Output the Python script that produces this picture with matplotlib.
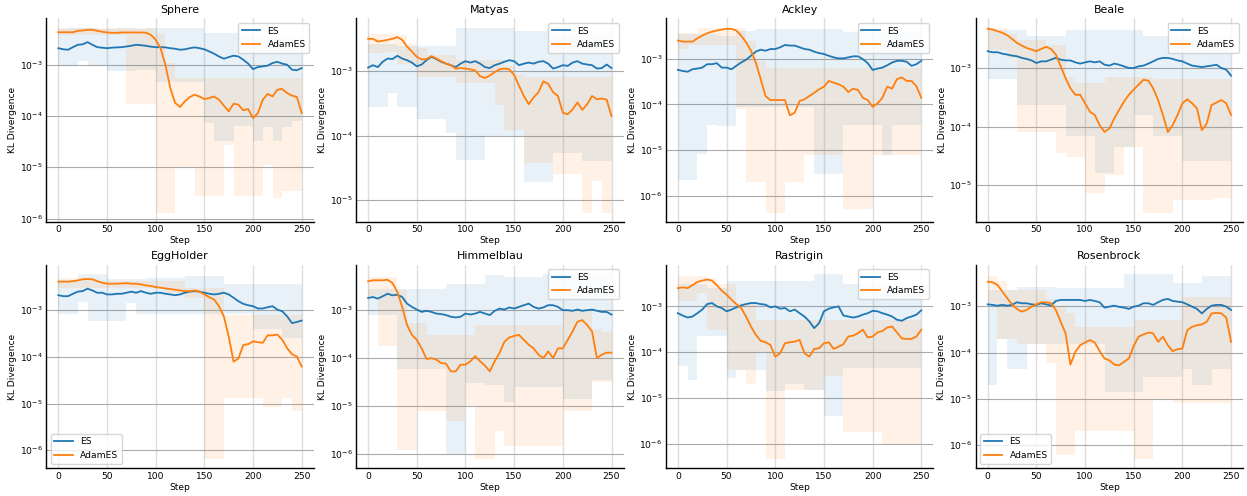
import matplotlib
matplotlib.use('Agg')
import matplotlib.pyplot as plt


steps = list(range(0, 251, 5))
band_steps = list(range(0, 251, 10))

# ---- Sphere ----
sphere_es = [2.1e-3, 2.0e-3, 1.96e-3, 2.2e-3, 2.45e-3, 2.5e-3, 2.76e-3, 2.45e-3, 2.2e-3, 2.15e-3,
             2.1e-3, 2.15e-3, 2.18e-3, 2.2e-3, 2.27e-3, 2.35e-3, 2.45e-3, 2.4e-3, 2.34e-3, 2.25e-3,
             2.2e-3, 2.2e-3, 2.18e-3, 2.1e-3, 2.05e-3, 1.96e-3, 2.0e-3, 2.1e-3, 2.18e-3, 2.1e-3,
             2.0e-3, 1.82e-3, 1.64e-3, 1.45e-3, 1.31e-3, 1.41e-3, 1.5e-3, 1.45e-3, 1.25e-3, 1.05e-3,
             8.2e-4, 9.0e-4, 9.3e-4, 9.6e-4, 1.08e-3, 1.14e-3, 1.05e-3, 1.0e-3, 8.0e-4, 7.8e-4, 8.6e-4]
sphere_adam = [4.3e-3, 4.3e-3, 4.3e-3, 4.3e-3, 4.6e-3, 4.65e-3, 4.8e-3, 4.8e-3, 4.6e-3, 4.4e-3,
               4.26e-3, 4.2e-3, 4.2e-3, 4.26e-3, 4.26e-3, 4.26e-3, 4.26e-3, 4.26e-3, 4.2e-3, 3.84e-3,
               3.07e-3, 2.1e-3, 1.0e-3, 3.5e-4, 1.8e-4, 1.5e-4, 1.93e-4, 2.34e-4, 2.6e-4, 2.4e-4,
               2.14e-4, 2.24e-4, 2.4e-4, 2.08e-4, 1.6e-4, 1.23e-4, 1.74e-4, 1.66e-4, 1.29e-4, 1.37e-4,
               9.1e-5, 1.14e-4, 2.08e-4, 2.7e-4, 2.4e-4, 3.26e-4, 3.35e-4, 2.8e-4, 2.5e-4, 2.35e-4, 1.14e-4]
sphere_es_hi = [5.0e-3, 5.3e-3, 5.3e-3, 5.2e-3, 5.0e-3, 5.0e-3, 5.2e-3, 5.2e-3, 5.0e-3, 5.2e-3,
                5.2e-3, 5.2e-3, 5.2e-3, 5.2e-3, 5.2e-3, 4.2e-3, 4.2e-3, 4.2e-3, 4.2e-3, 4.0e-3,
                3.3e-3, 3.3e-3, 3.3e-3, 3.3e-3, 3.3e-3, 3.3e-3]
sphere_es_lo = [9.3e-4, 9.3e-4, 1.2e-3, 9.3e-4, 9.3e-4, 7.4e-4, 7.4e-4, 7.4e-4, 8.0e-4, 8.0e-4,
                4.7e-4, 4.7e-4, 4.7e-4, 4.7e-4, 4.7e-4, 7.2e-5, 3.2e-5, 3.2e-5, 6.5e-5, 6.5e-5,
                3.2e-5, 6.0e-5, 3.2e-5, 6.0e-5, 8.0e-5, 8.0e-5]
sphere_adam_hi = [5.2e-3, 5.2e-3, 5.2e-3, 5.2e-3, 5.2e-3, 5.2e-3, 5.2e-3, 5.2e-3, 5.2e-3, 5.2e-3,
                  4.0e-3, 1.1e-3, 5.5e-4, 5.5e-4, 5.5e-4, 5.5e-4, 5.5e-4, 5.5e-4, 5.5e-4, 5.5e-4,
                  5.5e-4, 5.5e-4, 5.5e-4, 5.5e-4, 5.5e-4, 5.5e-4]
sphere_adam_lo = [3.8e-3, 3.8e-3, 3.8e-3, 3.8e-3, 3.8e-3, 3.8e-3, 3.8e-3, 1.7e-4, 1.7e-4, 1.7e-4,
                  1.3e-6, 1.3e-6, 1.0e-5, 1.0e-5, 2.7e-6, 2.7e-6, 2.7e-6, 2.7e-5, 2.7e-6, 2.7e-6,
                  2.7e-6, 1.1e-5, 2.5e-6, 3.5e-6, 3.5e-6, 3.5e-6]

# ---- Matyas ----
matyas_es = [1.13e-3, 1.23e-3, 1.15e-3, 1.39e-3, 1.56e-3, 1.53e-3, 1.72e-3, 1.56e-3, 1.47e-3, 1.35e-3,
             1.18e-3, 1.26e-3, 1.47e-3, 1.66e-3, 1.53e-3, 1.39e-3, 1.3e-3, 1.23e-3, 1.15e-3, 1.3e-3,
             1.42e-3, 1.35e-3, 1.42e-3, 1.3e-3, 1.15e-3, 1.11e-3, 1.23e-3, 1.3e-3, 1.39e-3, 1.47e-3,
             1.42e-3, 1.23e-3, 1.3e-3, 1.35e-3, 1.3e-3, 1.39e-3, 1.42e-3, 1.3e-3, 1.09e-3, 1.15e-3,
             1.23e-3, 1.2e-3, 1.35e-3, 1.42e-3, 1.3e-3, 1.26e-3, 1.23e-3, 1.09e-3, 1.11e-3, 1.26e-3, 1.11e-3]
matyas_adam = [3.15e-3, 3.15e-3, 2.86e-3, 2.94e-3, 3.04e-3, 3.15e-3, 3.35e-3, 3.04e-3, 2.39e-3, 2.0e-3,
               1.66e-3, 1.51e-3, 1.53e-3, 1.7e-3, 1.56e-3, 1.42e-3, 1.3e-3, 1.23e-3, 1.09e-3, 1.11e-3,
               1.09e-3, 1.06e-3, 1.02e-3, 8.3e-4, 7.8e-4, 8.5e-4, 9.6e-4, 1.06e-3, 1.09e-3, 1.06e-3,
               8.7e-4, 5.9e-4, 4.1e-4, 3.06e-4, 3.9e-4, 4.7e-4, 6.9e-4, 6.3e-4, 4.7e-4, 4.1e-4,
               2.26e-4, 2.13e-4, 2.55e-4, 3.25e-4, 2.5e-4, 3.06e-4, 4.1e-4, 3.65e-4, 3.75e-4, 3.6e-4, 2.0e-4]
matyas_es_hi = [2.6e-3, 2.6e-3, 2.6e-3, 2.4e-3, 2.4e-3, 2.4e-3, 2.4e-3, 2.4e-3, 2.4e-3, 4.7e-3,
                4.7e-3, 4.7e-3, 4.7e-3, 4.7e-3, 4.7e-3, 4.1e-3, 4.1e-3, 4.1e-3, 4.1e-3, 3.7e-3,
                3.7e-3, 3.7e-3, 3.7e-3, 3.7e-3, 3.7e-3, 3.7e-3]
matyas_es_lo = [2.8e-4, 2.8e-4, 4.5e-4, 2.8e-4, 2.8e-4, 1.8e-4, 1.8e-4, 1.8e-4, 1.1e-4, 4.2e-5,
                4.2e-5, 4.2e-5, 1.0e-4, 1.0e-4, 1.0e-4, 1.0e-4, 1.9e-5, 1.9e-5, 1.9e-5, 5.3e-5,
                5.3e-5, 5.3e-5, 4.0e-5, 4.0e-5, 4.0e-5, 4.0e-5]
matyas_adam_hi = [3.7e-3, 3.7e-3, 3.7e-3, 3.6e-3, 2.6e-3, 2.3e-3, 1.8e-3, 1.8e-3, 1.8e-3, 1.5e-3,
                  1.5e-3, 1.5e-3, 1.5e-3, 1.5e-3, 1.2e-3, 9.0e-4, 8.0e-4, 8.0e-4, 8.0e-4, 8.0e-4,
                  8.0e-4, 8.0e-4, 8.0e-4, 8.0e-4, 8.0e-4, 8.0e-4]
matyas_adam_lo = [1.9e-3, 1.9e-3, 2.0e-3, 1.3e-3, 1.3e-3, 8.0e-4, 8.0e-4, 8.0e-4, 8.0e-4, 6.5e-4,
                  6.5e-4, 6.5e-4, 6.5e-4, 3.0e-4, 1.2e-4, 1.2e-4, 3.7e-5, 3.7e-5, 3.7e-5, 2.5e-5,
                  2.5e-5, 2.5e-5, 6.4e-6, 2.0e-5, 6.4e-6, 6.4e-6]

# ---- Ackley ----
ackley_es = [5.7e-4, 5.4e-4, 5.2e-4, 5.9e-4, 6.1e-4, 6.4e-4, 7.6e-4, 7.6e-4, 8.0e-4, 6.4e-4,
             6.4e-4, 5.9e-4, 7.0e-4, 8.3e-4, 9.5e-4, 1.16e-3, 1.43e-3, 1.58e-3, 1.5e-3, 1.63e-3,
             1.63e-3, 1.78e-3, 2.0e-3, 1.94e-3, 1.94e-3, 1.78e-3, 1.63e-3, 1.58e-3, 1.43e-3, 1.33e-3,
             1.27e-3, 1.16e-3, 1.07e-3, 1.02e-3, 1.02e-3, 1.07e-3, 1.13e-3, 1.13e-3, 9.8e-4, 8.0e-4,
             5.7e-4, 6.1e-4, 6.4e-4, 7.2e-4, 8.3e-4, 9.0e-4, 9.0e-4, 8.6e-4, 7.0e-4, 7.6e-4, 9.0e-4]
ackley_adam = [2.5e-3, 2.37e-3, 2.37e-3, 2.37e-3, 2.8e-3, 3.2e-3, 3.6e-3, 3.9e-3, 4.15e-3, 4.36e-3,
               4.5e-3, 4.5e-3, 4.15e-3, 3.2e-3, 2.3e-3, 1.5e-3, 8.3e-4, 3.6e-4, 1.53e-4, 1.25e-4,
               1.25e-4, 1.25e-4, 1.25e-4, 5.8e-5, 6.6e-5, 1.19e-4, 1.3e-4, 1.53e-4, 1.8e-4, 2.14e-4,
               2.45e-4, 3.27e-4, 3.0e-4, 2.76e-4, 2.45e-4, 1.87e-4, 2.22e-4, 2.07e-4, 1.4e-4, 1.25e-4,
               8.9e-5, 1.05e-4, 1.4e-4, 2.45e-4, 2.22e-4, 3.6e-4, 3.9e-4, 3.27e-4, 3.27e-4, 2.5e-4, 1.4e-4]
ackley_es_hi = [3.5e-3, 3.5e-3, 3.5e-3, 3.5e-3, 3.2e-3, 3.2e-3, 4.0e-3, 4.0e-3, 4.5e-3, 4.5e-3,
                4.5e-3, 4.5e-3, 4.5e-3, 4.5e-3, 4.5e-3, 4.5e-3, 4.5e-3, 3.8e-3, 3.8e-3, 3.8e-3,
                3.8e-3, 3.8e-3, 3.8e-3, 3.8e-3, 3.8e-3, 3.8e-3]
ackley_es_lo = [2.2e-6, 2.2e-6, 8.3e-6, 3.5e-5, 3.3e-5, 3.3e-5, 9.0e-5, 9.0e-5, 9.0e-5, 9.0e-5,
                9.0e-5, 9.0e-5, 9.0e-5, 9.0e-5, 3.0e-6, 3.0e-6, 3.0e-6, 3.5e-5, 3.5e-5, 3.5e-5,
                3.5e-5, 8.0e-6, 3.5e-5, 3.5e-5, 3.5e-5, 3.5e-5]
ackley_adam_hi = [3.6e-3, 3.6e-3, 4.8e-3, 4.8e-3, 4.8e-3, 4.8e-3, 4.8e-3, 2.5e-3, 9.0e-4, 6.4e-4,
                  6.4e-4, 6.4e-4, 6.4e-4, 6.4e-4, 6.4e-4, 6.4e-4, 6.4e-4, 6.4e-4, 6.4e-4, 6.4e-4,
                  6.4e-4, 6.4e-4, 6.4e-4, 6.4e-4, 6.4e-4, 6.4e-4]
ackley_adam_lo = [1.6e-3, 2.0e-3, 2.0e-3, 2.0e-3, 2.0e-3, 2.0e-3, 8.0e-5, 2.0e-6, 2.0e-6, 4.3e-7,
                  4.3e-7, 2.0e-6, 2.0e-6, 8.0e-6, 8.0e-6, 8.0e-6, 8.0e-6, 5.1e-7, 5.1e-7, 5.1e-7,
                  8.0e-6, 8.0e-6, 8.0e-6, 8.0e-6, 8.0e-6, 8.0e-6]

# ---- Beale ----
beale_es = [1.94e-3, 1.86e-3, 1.86e-3, 1.76e-3, 1.7e-3, 1.63e-3, 1.59e-3, 1.49e-3, 1.43e-3, 1.35e-3,
            1.22e-3, 1.3e-3, 1.3e-3, 1.39e-3, 1.49e-3, 1.39e-3, 1.35e-3, 1.35e-3, 1.25e-3, 1.19e-3,
            1.25e-3, 1.3e-3, 1.25e-3, 1.3e-3, 1.14e-3, 1.1e-3, 1.19e-3, 1.14e-3, 1.07e-3, 1.0e-3,
            1.0e-3, 1.07e-3, 1.1e-3, 1.19e-3, 1.3e-3, 1.43e-3, 1.49e-3, 1.49e-3, 1.43e-3, 1.35e-3,
            1.3e-3, 1.19e-3, 1.1e-3, 1.07e-3, 1.04e-3, 1.07e-3, 1.1e-3, 1.14e-3, 1.0e-3, 9.4e-4, 7.4e-4]
beale_adam = [4.7e-3, 4.55e-3, 4.27e-3, 3.99e-3, 3.64e-3, 3.15e-3, 2.69e-3, 2.42e-3, 2.2e-3, 2.07e-3,
              1.94e-3, 2.12e-3, 2.3e-3, 2.12e-3, 1.7e-3, 1.07e-3, 6.7e-4, 4.5e-4, 3.5e-4, 3.5e-4,
              2.5e-4, 1.8e-4, 1.58e-4, 1.06e-4, 8.1e-5, 9.3e-5, 1.38e-4, 1.93e-4, 2.67e-4, 3.5e-4,
              4.3e-4, 5.2e-4, 6.3e-4, 6.1e-4, 4.5e-4, 2.85e-4, 1.58e-4, 8.1e-5, 1.06e-4, 1.58e-4,
              2.5e-4, 2.93e-4, 2.5e-4, 2.05e-4, 8.7e-5, 1.13e-4, 2.35e-4, 2.57e-4, 2.85e-4, 2.5e-4, 1.58e-4]
beale_es_hi = [4.5e-3, 4.5e-3, 4.5e-3, 4.5e-3, 3.5e-3, 3.5e-3, 3.5e-3, 3.5e-3, 4.5e-3, 4.5e-3,
               4.5e-3, 4.5e-3, 4.5e-3, 4.5e-3, 4.5e-3, 4.5e-3, 3.5e-3, 3.5e-3, 3.5e-3, 3.5e-3,
               3.5e-3, 3.5e-3, 3.5e-3, 3.5e-3, 3.5e-3, 3.5e-3]
beale_es_lo = [6.5e-4, 6.5e-4, 6.5e-4, 2.3e-4, 2.3e-4, 2.3e-4, 2.3e-4, 2.3e-4, 7.0e-5, 7.0e-5,
               7.0e-5, 1.6e-5, 1.6e-5, 4.5e-5, 4.5e-5, 1.6e-4, 1.6e-4, 7.0e-5, 7.0e-5, 7.0e-5,
               2.6e-5, 2.6e-5, 2.6e-5, 2.6e-5, 2.6e-5, 2.6e-5]
beale_adam_hi = [4.9e-3, 4.9e-3, 3.8e-3, 3.0e-3, 3.0e-3, 3.0e-3, 2.5e-3, 2.5e-3, 7.0e-4, 5.5e-4,
                 5.5e-4, 5.5e-4, 7.0e-4, 7.0e-4, 7.0e-4, 7.0e-4, 7.0e-4, 6.5e-4, 6.5e-4, 6.5e-4,
                 6.5e-4, 6.5e-4, 6.5e-4, 6.5e-4, 6.5e-4, 6.5e-4]
beale_adam_lo = [2.0e-3, 2.0e-3, 1.5e-3, 8.0e-5, 8.0e-5, 8.0e-5, 8.0e-5, 3.5e-5, 3.0e-5, 3.0e-5,
                 7.4e-6, 7.4e-6, 1.5e-5, 1.5e-5, 4.5e-5, 4.5e-5, 3.4e-6, 3.4e-6, 3.4e-6, 5.5e-6,
                 5.5e-6, 5.5e-6, 5.5e-6, 6.0e-6, 6.0e-6, 6.0e-6]

# ---- EggHolder ----
egg_es = [2.1e-3, 2.0e-3, 2.0e-3, 2.25e-3, 2.5e-3, 2.57e-3, 2.9e-3, 2.65e-3, 2.37e-3, 2.37e-3,
          2.18e-3, 2.18e-3, 2.25e-3, 2.25e-3, 2.37e-3, 2.5e-3, 2.37e-3, 2.57e-3, 2.37e-3, 2.25e-3,
          2.37e-3, 2.37e-3, 2.25e-3, 2.18e-3, 2.1e-3, 2.18e-3, 2.37e-3, 2.5e-3, 2.57e-3, 2.5e-3,
          2.37e-3, 2.25e-3, 2.18e-3, 2.25e-3, 2.37e-3, 2.18e-3, 1.85e-3, 1.56e-3, 1.37e-3, 1.28e-3,
          1.22e-3, 1.09e-3, 1.09e-3, 1.16e-3, 1.22e-3, 1.03e-3, 9.5e-4, 7.4e-4, 5.3e-4, 5.6e-4, 6.0e-4]
egg_adam = [4.1e-3, 4.1e-3, 4.1e-3, 4.2e-3, 4.35e-3, 4.6e-3, 4.66e-3, 4.6e-3, 4.2e-3, 3.9e-3,
            3.7e-3, 3.7e-3, 3.7e-3, 3.75e-3, 3.8e-3, 3.7e-3, 3.7e-3, 3.58e-3, 3.4e-3, 3.3e-3,
            3.13e-3, 3.03e-3, 2.93e-3, 2.84e-3, 2.75e-3, 2.65e-3, 2.57e-3, 2.57e-3, 2.65e-3, 2.5e-3,
            2.18e-3, 1.9e-3, 1.7e-3, 1.22e-3, 7.4e-4, 2.75e-4, 7.9e-5, 9.3e-5, 1.8e-4, 1.87e-4,
            2.15e-4, 2.07e-4, 2.0e-4, 2.9e-4, 2.9e-4, 3.0e-4, 2.33e-4, 1.54e-4, 1.14e-4, 1.02e-4, 6.2e-5]
egg_es_hi = [4.4e-3, 4.4e-3, 6.0e-3, 6.0e-3, 6.0e-3, 4.6e-3, 4.6e-3, 4.6e-3, 4.6e-3, 5.0e-3,
             5.0e-3, 5.0e-3, 5.0e-3, 5.5e-3, 5.5e-3, 5.5e-3, 5.5e-3, 3.7e-3, 3.7e-3, 3.7e-3,
             3.7e-3, 3.7e-3, 3.7e-3, 3.7e-3, 3.7e-3, 3.7e-3]
egg_es_lo = [8.5e-4, 8.5e-4, 1.5e-3, 5.8e-4, 5.8e-4, 5.8e-4, 5.8e-4, 1.4e-3, 8.5e-4, 8.5e-4,
             8.5e-4, 8.5e-4, 8.5e-4, 8.5e-4, 8.5e-4, 8.5e-4, 8.5e-4, 8.5e-4, 8.5e-4, 8.5e-4,
             4.0e-4, 4.0e-4, 4.0e-4, 2.5e-4, 2.5e-4, 2.5e-4]
egg_adam_hi = [4.9e-3, 4.9e-3, 4.9e-3, 4.9e-3, 4.3e-3, 4.3e-3, 4.3e-3, 4.3e-3, 4.3e-3, 4.3e-3,
               4.3e-3, 4.3e-3, 4.3e-3, 3.0e-3, 3.0e-3, 3.0e-3, 3.0e-3, 7.8e-4, 7.8e-4, 7.8e-4,
               7.8e-4, 7.8e-4, 7.8e-4, 7.8e-4, 7.8e-4, 7.8e-4]
egg_adam_lo = [3.0e-3, 3.0e-3, 3.0e-3, 3.0e-3, 3.0e-3, 3.0e-3, 3.0e-3, 3.0e-3, 3.0e-3, 3.0e-3,
               3.0e-3, 2.3e-3, 2.3e-3, 1.8e-3, 1.8e-3, 6.5e-7, 6.5e-7, 1.3e-5, 1.3e-5, 1.3e-5,
               1.3e-5, 8.5e-6, 8.5e-6, 1.3e-5, 7.0e-6, 7.0e-6]

# ---- Himmelblau ----
himmel_es = [1.8e-3, 1.88e-3, 1.74e-3, 1.95e-3, 2.2e-3, 2.04e-3, 2.1e-3, 1.88e-3, 1.37e-3, 1.17e-3,
             1.03e-3, 9.2e-4, 9.7e-4, 9.2e-4, 8.5e-4, 8.3e-4, 7.9e-4, 7.3e-4, 7.05e-4, 7.3e-4,
             8.5e-4, 8.1e-4, 8.5e-4, 9.2e-4, 8.5e-4, 7.9e-4, 9.7e-4, 1.08e-3, 1.03e-3, 1.14e-3,
             1.08e-3, 1.17e-3, 1.27e-3, 1.37e-3, 1.17e-3, 1.08e-3, 1.14e-3, 1.27e-3, 1.27e-3, 1.17e-3,
             1.0e-3, 1.0e-3, 9.7e-4, 1.03e-3, 9.7e-4, 1.0e-3, 1.03e-3, 9.7e-4, 9.2e-4, 9.2e-4, 8.1e-4]
himmel_adam = [4.0e-3, 4.2e-3, 4.2e-3, 4.2e-3, 4.3e-3, 3.7e-3, 2.4e-3, 1.17e-3, 4.9e-4, 3.05e-4,
               2.4e-4, 1.6e-4, 9.6e-5, 1.0e-4, 9.3e-5, 7.9e-5, 7.7e-5, 5.3e-5, 5.3e-5, 7.3e-5,
               7.3e-5, 8.6e-5, 1.1e-4, 8.6e-5, 7.0e-5, 5.3e-5, 8.6e-5, 1.28e-4, 2.2e-4, 2.7e-4,
               2.9e-4, 3.05e-4, 2.4e-4, 1.9e-4, 1.6e-4, 1.18e-4, 1.0e-4, 1.38e-4, 1.0e-4, 1.6e-4,
               1.6e-4, 2.4e-4, 3.6e-4, 5.75e-4, 6.2e-4, 4.9e-4, 3.6e-4, 1.0e-4, 1.18e-4, 1.3e-4, 1.3e-4]
himmel_es_hi = [2.7e-3, 2.7e-3, 2.7e-3, 2.7e-3, 2.7e-3, 2.7e-3, 2.7e-3, 2.7e-3, 3.5e-3, 3.5e-3,
                3.5e-3, 3.5e-3, 5.3e-3, 5.3e-3, 5.0e-3, 5.0e-3, 5.0e-3, 5.0e-3, 5.7e-3, 5.7e-3,
                5.7e-3, 5.7e-3, 5.7e-3, 5.7e-3, 5.7e-3, 5.7e-3]
himmel_es_lo = [7.9e-4, 7.9e-4, 7.9e-4, 5.8e-5, 5.8e-5, 5.8e-5, 5.8e-5, 5.8e-5, 1.0e-6, 1.0e-6,
                3.0e-5, 3.0e-5, 2.7e-5, 2.7e-5, 1.2e-5, 2.5e-5, 2.5e-5, 2.5e-5, 2.5e-5, 2.5e-5,
                1.4e-5, 1.4e-5, 1.4e-5, 3.5e-5, 3.5e-5, 3.5e-5]
himmel_adam_hi = [4.8e-3, 4.8e-3, 4.8e-3, 2.6e-3, 5.5e-4, 5.5e-4, 3.0e-4, 3.0e-4, 3.0e-4, 3.0e-4,
                  3.0e-4, 5.0e-4, 5.0e-4, 5.0e-4, 5.0e-4, 5.0e-4, 5.0e-4, 5.0e-4, 5.0e-4, 5.0e-4,
                  1.0e-3, 1.0e-3, 1.0e-3, 4.0e-4, 3.5e-4, 3.5e-4]
himmel_adam_lo = [2.0e-3, 1.75e-4, 1.75e-4, 1.2e-6, 1.2e-6, 7.9e-6, 7.9e-6, 7.9e-6, 5.0e-6, 5.0e-6,
                  1.0e-5, 7.9e-7, 7.9e-7, 3.0e-6, 1.5e-6, 1.5e-6, 1.5e-6, 1.5e-6, 1.5e-6, 1.5e-6,
                  8.0e-6, 8.0e-6, 8.0e-6, 3.2e-5, 3.2e-5, 3.2e-5]

# ---- Rastrigin ----
rast_es = [7.1e-4, 6.3e-4, 5.7e-4, 6.0e-4, 7.1e-4, 8.5e-4, 1.12e-3, 1.18e-3, 1.0e-3, 9.2e-4,
           7.8e-4, 8.5e-4, 9.5e-4, 1.05e-3, 1.12e-3, 1.18e-3, 1.18e-3, 1.12e-3, 1.09e-3, 9.5e-4,
           1.0e-3, 8.9e-4, 9.2e-4, 7.8e-4, 8.5e-4, 7.1e-4, 6.0e-4, 4.7e-4, 3.35e-4, 4.3e-4,
           7.8e-4, 8.9e-4, 9.5e-4, 1.0e-3, 6.3e-4, 6.0e-4, 5.7e-4, 6.0e-4, 6.6e-4, 7.1e-4,
           8.0e-4, 7.8e-4, 7.1e-4, 6.6e-4, 6.0e-4, 5.1e-4, 4.85e-4, 5.55e-4, 6.0e-4, 6.6e-4, 8.2e-4]
rast_adam = [2.5e-3, 2.6e-3, 2.5e-3, 2.9e-3, 3.4e-3, 3.65e-3, 3.85e-3, 3.65e-3, 2.9e-3, 2.2e-3,
             1.8e-3, 1.4e-3, 1.12e-3, 9.2e-4, 6.0e-4, 3.65e-4, 2.4e-4, 1.77e-4, 1.65e-4, 1.44e-4,
             8.0e-5, 9.5e-5, 1.57e-4, 1.65e-4, 1.7e-4, 1.86e-4, 9.5e-5, 8.0e-5, 1.18e-4, 1.22e-4,
             1.57e-4, 1.65e-4, 1.18e-4, 1.32e-4, 1.5e-4, 2.2e-4, 2.3e-4, 2.6e-4, 3.1e-4, 2.1e-4,
             2.2e-4, 2.7e-4, 2.9e-4, 3.45e-4, 3.65e-4, 2.7e-4, 2.0e-4, 1.95e-4, 1.95e-4, 2.2e-4, 3.1e-4]
rast_es_hi = [3.0e-3, 3.0e-3, 3.0e-3, 2.5e-3, 2.5e-3, 3.5e-3, 3.5e-3, 3.5e-3, 3.5e-3, 3.5e-3,
              3.5e-3, 3.5e-3, 3.5e-3, 3.5e-3, 5.1e-3, 5.1e-3, 5.1e-3, 3.0e-3, 3.0e-3, 3.0e-3,
              3.0e-3, 3.0e-3, 3.0e-3, 3.0e-3, 3.0e-3, 3.0e-3]
rast_es_lo = [5.0e-5, 2.5e-5, 2.3e-4, 2.3e-4, 2.3e-4, 2.7e-5, 4.0e-5, 4.0e-5, 4.0e-5, 1.44e-5,
              1.44e-5, 2.0e-5, 2.0e-5, 1.5e-5, 1.5e-5, 4.0e-6, 4.0e-6, 4.6e-5, 4.6e-5, 4.6e-5,
              4.6e-5, 4.6e-5, 4.6e-5, 4.6e-5, 4.6e-5, 4.6e-5]
rast_adam_hi = [4.5e-3, 4.5e-3, 4.5e-3, 4.2e-3, 3.0e-3, 3.0e-3, 1.2e-3, 1.2e-3, 5.0e-4, 5.0e-4,
                5.0e-4, 5.0e-4, 5.0e-4, 5.0e-4, 5.0e-4, 5.0e-4, 5.0e-4, 5.0e-4, 5.0e-4, 5.0e-4,
                5.0e-4, 5.0e-4, 5.0e-4, 5.0e-4, 5.0e-4, 5.0e-4]
rast_adam_lo = [1.3e-3, 1.3e-3, 2.0e-3, 3.0e-4, 3.0e-4, 4.0e-5, 4.0e-5, 2.0e-5, 1.0e-4, 4.7e-7,
                4.7e-7, 1.5e-5, 1.5e-5, 1.5e-5, 1.5e-5, 3.0e-5, 3.0e-5, 1.8e-6, 1.8e-6, 1.8e-6,
                1.8e-6, 1.0e-6, 1.0e-6, 1.0e-6, 1.0e-6, 1.0e-6]

# ---- Rosenbrock ----
rosen_es = [1.1e-3, 1.07e-3, 1.03e-3, 1.07e-3, 1.03e-3, 1.07e-3, 1.22e-3, 1.16e-3, 1.16e-3, 1.1e-3,
            1.07e-3, 1.16e-3, 1.1e-3, 1.03e-3, 1.3e-3, 1.37e-3, 1.37e-3, 1.37e-3, 1.37e-3, 1.37e-3,
            1.3e-3, 1.37e-3, 1.3e-3, 1.22e-3, 9.35e-4, 9.8e-4, 1.03e-3, 9.7e-4, 9.35e-4, 8.75e-4,
            9.8e-4, 1.03e-3, 1.16e-3, 1.16e-3, 1.07e-3, 1.22e-3, 1.37e-3, 1.44e-3, 1.3e-3, 1.26e-3,
            1.22e-3, 1.1e-3, 9.8e-4, 8.75e-4, 7.0e-4, 8.75e-4, 1.03e-3, 1.07e-3, 1.07e-3, 9.8e-4, 8.3e-4]
rosen_adam = [3.4e-3, 3.3e-3, 2.9e-3, 2.08e-3, 1.5e-3, 1.1e-3, 8.75e-4, 7.65e-4, 8.3e-4, 9.8e-4,
              1.1e-3, 1.22e-3, 1.22e-3, 1.16e-3, 8.3e-4, 4.6e-4, 2.6e-4, 5.5e-5, 1.03e-4, 1.44e-4,
              1.65e-4, 1.86e-4, 1.65e-4, 1.07e-4, 7.4e-5, 6.8e-5, 5.5e-5, 5.3e-5, 6.3e-5, 7.4e-5,
              1.4e-4, 2.2e-4, 2.46e-4, 2.7e-4, 2.6e-4, 1.7e-4, 2.2e-4, 1.44e-4, 1.07e-4, 1.18e-4,
              1.22e-4, 3.05e-4, 3.6e-4, 3.9e-4, 4.05e-4, 4.6e-4, 7.0e-4, 7.2e-4, 7.0e-4, 5.7e-4, 1.7e-4]
rosen_es_hi = [2.2e-3, 2.2e-3, 2.2e-3, 2.6e-3, 2.6e-3, 2.6e-3, 2.6e-3, 2.5e-3, 2.5e-3, 2.5e-3,
               2.5e-3, 2.5e-3, 2.5e-3, 2.5e-3, 5.0e-3, 5.0e-3, 5.0e-3, 5.0e-3, 5.0e-3, 3.2e-3,
               3.2e-3, 3.2e-3, 4.5e-3, 4.5e-3, 4.5e-3, 4.5e-3]
rosen_es_lo = [2.0e-5, 2.0e-4, 4.5e-5, 4.5e-5, 1.5e-4, 1.5e-4, 1.5e-4, 1.5e-4, 1.5e-4, 1.5e-4,
               1.5e-4, 1.5e-4, 1.4e-5, 1.4e-5, 1.4e-5, 1.4e-5, 3.0e-5, 3.0e-5, 3.0e-5, 3.0e-5,
               4.5e-5, 2.0e-5, 2.0e-5, 4.5e-5, 4.5e-5, 4.5e-5]
rosen_adam_hi = [4.5e-3, 3.5e-3, 2.2e-3, 2.2e-3, 2.2e-3, 2.2e-3, 1.4e-3, 1.0e-3, 7.0e-4, 3.5e-4,
                 3.5e-4, 3.5e-4, 3.5e-4, 3.5e-4, 3.5e-4, 5.0e-4, 5.0e-4, 5.0e-4, 5.0e-4, 5.0e-4,
                 1.6e-3, 1.6e-3, 1.6e-3, 1.6e-3, 1.6e-3, 1.6e-3]
rosen_adam_lo = [1.2e-3, 2.0e-4, 2.0e-4, 1.5e-4, 1.5e-4, 1.5e-4, 6.0e-5, 6.0e-7, 6.0e-7, 2.0e-6,
                 2.0e-6, 2.0e-6, 2.0e-6, 2.0e-6, 2.0e-6, 5.0e-7, 5.0e-7, 1.0e-5, 1.0e-5, 8.0e-6,
                 8.0e-6, 8.0e-6, 8.0e-6, 8.0e-6, 8.0e-6, 8.0e-6]

panels = [
    ('Sphere', sphere_es, sphere_adam, sphere_es_lo, sphere_es_hi, sphere_adam_lo, sphere_adam_hi, 'upper right'),
    ('Matyas', matyas_es, matyas_adam, matyas_es_lo, matyas_es_hi, matyas_adam_lo, matyas_adam_hi, 'upper right'),
    ('Ackley', ackley_es, ackley_adam, ackley_es_lo, ackley_es_hi, ackley_adam_lo, ackley_adam_hi, 'upper right'),
    ('Beale', beale_es, beale_adam, beale_es_lo, beale_es_hi, beale_adam_lo, beale_adam_hi, 'upper right'),
    ('EggHolder', egg_es, egg_adam, egg_es_lo, egg_es_hi, egg_adam_lo, egg_adam_hi, 'lower left'),
    ('Himmelblau', himmel_es, himmel_adam, himmel_es_lo, himmel_es_hi, himmel_adam_lo, himmel_adam_hi, 'upper right'),
    ('Rastrigin', rast_es, rast_adam, rast_es_lo, rast_es_hi, rast_adam_lo, rast_adam_hi, 'upper right'),
    ('Rosenbrock', rosen_es, rosen_adam, rosen_es_lo, rosen_es_hi, rosen_adam_lo, rosen_adam_hi, 'lower left'),
]

blue = '#1f77b4'
orange = '#ff7f0e'

fig, axes = plt.subplots(2, 4, figsize=(12.47, 4.96), dpi=100)
plt.subplots_adjust(left=0.037, right=0.997, bottom=0.056, top=0.963, wspace=0.157, hspace=0.21)

for ax, (name, es, adam, es_lo, es_hi, ad_lo, ad_hi, loc) in zip(axes.flat, panels):
    ax.fill_between(band_steps, es_lo, es_hi, step='post', color=blue, alpha=0.1, lw=0)
    ax.fill_between(band_steps, ad_lo, ad_hi, step='post', color=orange, alpha=0.1, lw=0)
    ax.plot(steps, es, color=blue, lw=1.3, label='ES')
    ax.plot(steps, adam, color=orange, lw=1.3, label='AdamES')
    ax.set_yscale('log')
    ax.set_xticks([0, 50, 100, 150, 200, 250])
    ax.set_axisbelow(True)
    ax.grid(True, axis='x', color='#dddddd', lw=1.0)
    ax.grid(True, axis='y', which='major', color='#aaaaaa', lw=0.8)
    ax.tick_params(which='both', length=0, labelsize=6.6, pad=2.5)
    for side in ('top', 'right'):
        ax.spines[side].set_visible(False)
    for side in ('left', 'bottom'):
        ax.spines[side].set_color('black')
        ax.spines[side].set_linewidth(1.0)
    ax.set_title(name, fontsize=7.9, pad=4)
    ax.set_xlabel('Step', fontsize=6.6, labelpad=1.5)
    ax.set_ylabel('KL Divergence', fontsize=6.6, labelpad=2)
    ax.legend(loc=loc, fontsize=6.6)

plt.savefig('out.png', dpi=100)
